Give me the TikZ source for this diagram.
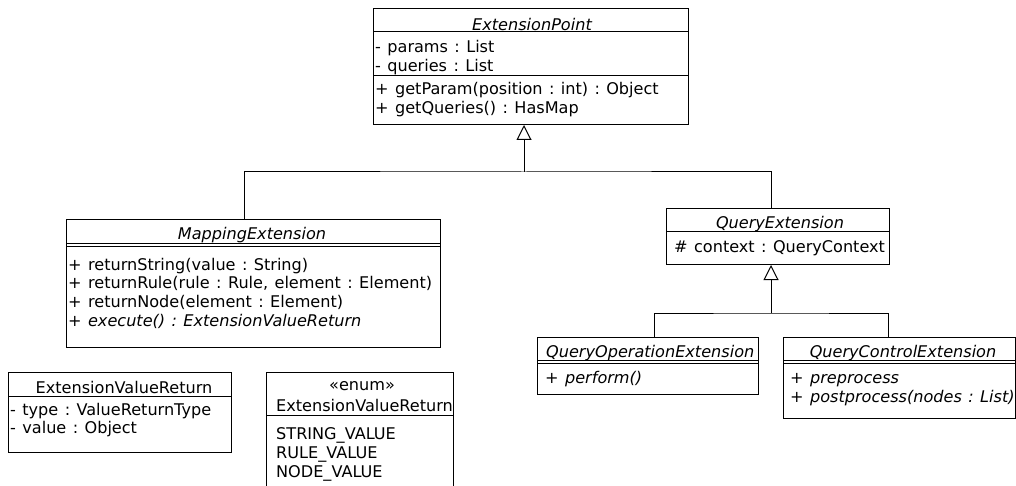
\documentclass[tikz,border=0pt]{standalone}
\usepackage{fontspec}
\setmainfont[WordSpace=1.25]{DejaVu Sans}
\frenchspacing
\usetikzlibrary{arrows.meta}
\usetikzlibrary{positioning}
\tikzstyle{classbox} = [rectangle, draw=black, line width=1pt, anchor=north west, inner sep=0pt]
\tikzstyle{member} = [anchor=base west, inner sep=0pt, font=\fontsize{16.1}{19}\selectfont]
\tikzstyle{absmember} = [member, font=\fontsize{16.1}{19}\selectfont\itshape]
\tikzstyle{title} = [anchor=base, inner sep=0pt, font=\fontsize{16.1}{19}\selectfont\itshape]
\tikzstyle{plaintitle} = [title, font=\fontsize{16.1}{19}\selectfont]
\tikzstyle{sep} = [draw, line width=1pt]
\tikzstyle{link} = [draw, line width=1pt]
\tikzstyle{inherit} = [draw, line width=1pt, -{Triangle[open, length=15pt, width=15pt]}]

\begin{document}
\begin{tikzpicture}[x=1pt, y=-1pt]
	\clip (0,0) rectangle (1016,486);
	%% ExtensionPoint
	\node [classbox, minimum width=315pt, minimum height=116pt] (ep) at (373,8) {};
	\node [title] (ep-t) at (532,30.5) {ExtensionPoint};
	\path [sep] (373,32) -- (688,32);
	\node [member] (ep-a1) at (375,52.5) {- params : List};
	\node [member] (ep-a2) at (375,72) {- queries : List};
	\path [sep] (373,76) -- (688,76);
	\node [member] (ep-o1) at (375,94.5) {+ getParam(position : int) : Object};
	\node [member] (ep-o2) at (375,113.5) {+ getQueries() : HasMap};
	%% MappingExtension
	\node [classbox, minimum width=374pt, minimum height=128pt] (me) at (66,219) {};
	\node [title] (me-t) at (252,240) {MappingExtension};
	\path [sep] (66,243) -- (440,243);
	\path [sep] (66,246) -- (440,246);
	\node [member] (me-o1) at (68,270) {+ returnString(value : String)};
	\node [member] (me-o2) at (68,288.5) {+ returnRule(rule : Rule, element : Element)};
	\node [member] (me-o3) at (68,307.5) {+ returnNode(element : Element)};
	\node [absmember] (me-o4) at (68,326.5) {+ execute() : ExtensionValueReturn};
	%% QueryExtension
	\node [classbox, minimum width=223pt, minimum height=56pt] (qe) at (666,208) {};
	\node [title] (qe-t) at (780,228.5) {QueryExtension};
	\path [sep] (666,232) -- (889,232);
	\node [member] (qe-a1) at (674,252) {\# context : QueryContext};
	%% QueryOperationExtension
	\node [classbox, minimum width=221pt, minimum height=57pt] (qoe) at (537,337) {};
	\node [title, anchor=base west] (qoe-t) at (546,357) {QueryOperationExtension};
	\path [sep] (537,360.5) -- (758,360.5);
	\path [sep] (537,363.5) -- (758,363.5);
	\node [absmember] (qoe-o1) at (545,383.5) {+ perform()};
	%% QueryControlExtension
	\node [classbox, minimum width=232pt, minimum height=81pt] (qce) at (783,337) {};
	\node [title] (qce-t) at (903,357) {QueryControlExtension};
	\path [sep] (783,360.5) -- (1015,360.5);
	\path [sep] (783,363.5) -- (1015,363.5);
	\node [absmember] (qce-o1) at (790,383.5) {+ preprocess};
	\node [absmember] (qce-o2) at (790,402.5) {+ postprocess(nodes : List)};
	%% ExtensionValueReturn
	\node [classbox, minimum width=223pt, minimum height=80pt] (evr) at (8,372) {};
	\node [plaintitle] (evr-t) at (124,393) {ExtensionValueReturn};
	\path [sep] (8,396.5) -- (231,396.5);
	\node [member] (evr-a1) at (10,415) {- type : ValueReturnType};
	\node [member] (evr-a2) at (10,433.5) {- value : Object};
	%% enum ExtensionValueReturn
	\node [classbox, minimum width=187pt, minimum height=125pt] (enm) at (266,372) {};
	\node [plaintitle] (enm-s) at (362,390.5) {«enum»};
	\node [member] (enm-t) at (276,411) {ExtensionValueReturn};
	\path [sep] (266,415) -- (453,415);
	\node [member] (enm-v1) at (276,439.5) {STRING\_VALUE};
	\node [member] (enm-v2) at (276,458) {RULE\_VALUE};
	\node [member] (enm-v3) at (276,477) {NODE\_VALUE};
	%% Generalisations
	\coordinate (j1) at (524,172);
	\coordinate (j2) at (771,313);
	\path [inherit] (j1) -- (j1 |- ep.south);
	\path [link] ([xshift=-9pt]me.north) |- (j1) -| ([xshift=-6.5pt]qe.north);
	\path [inherit] (j2) -- (j2 |- qe.south);
	\path [link] ([xshift=6.5pt]qoe.north) |- (j2) -| ([xshift=-11pt]qce.north);
\end{tikzpicture}
\end{document}
